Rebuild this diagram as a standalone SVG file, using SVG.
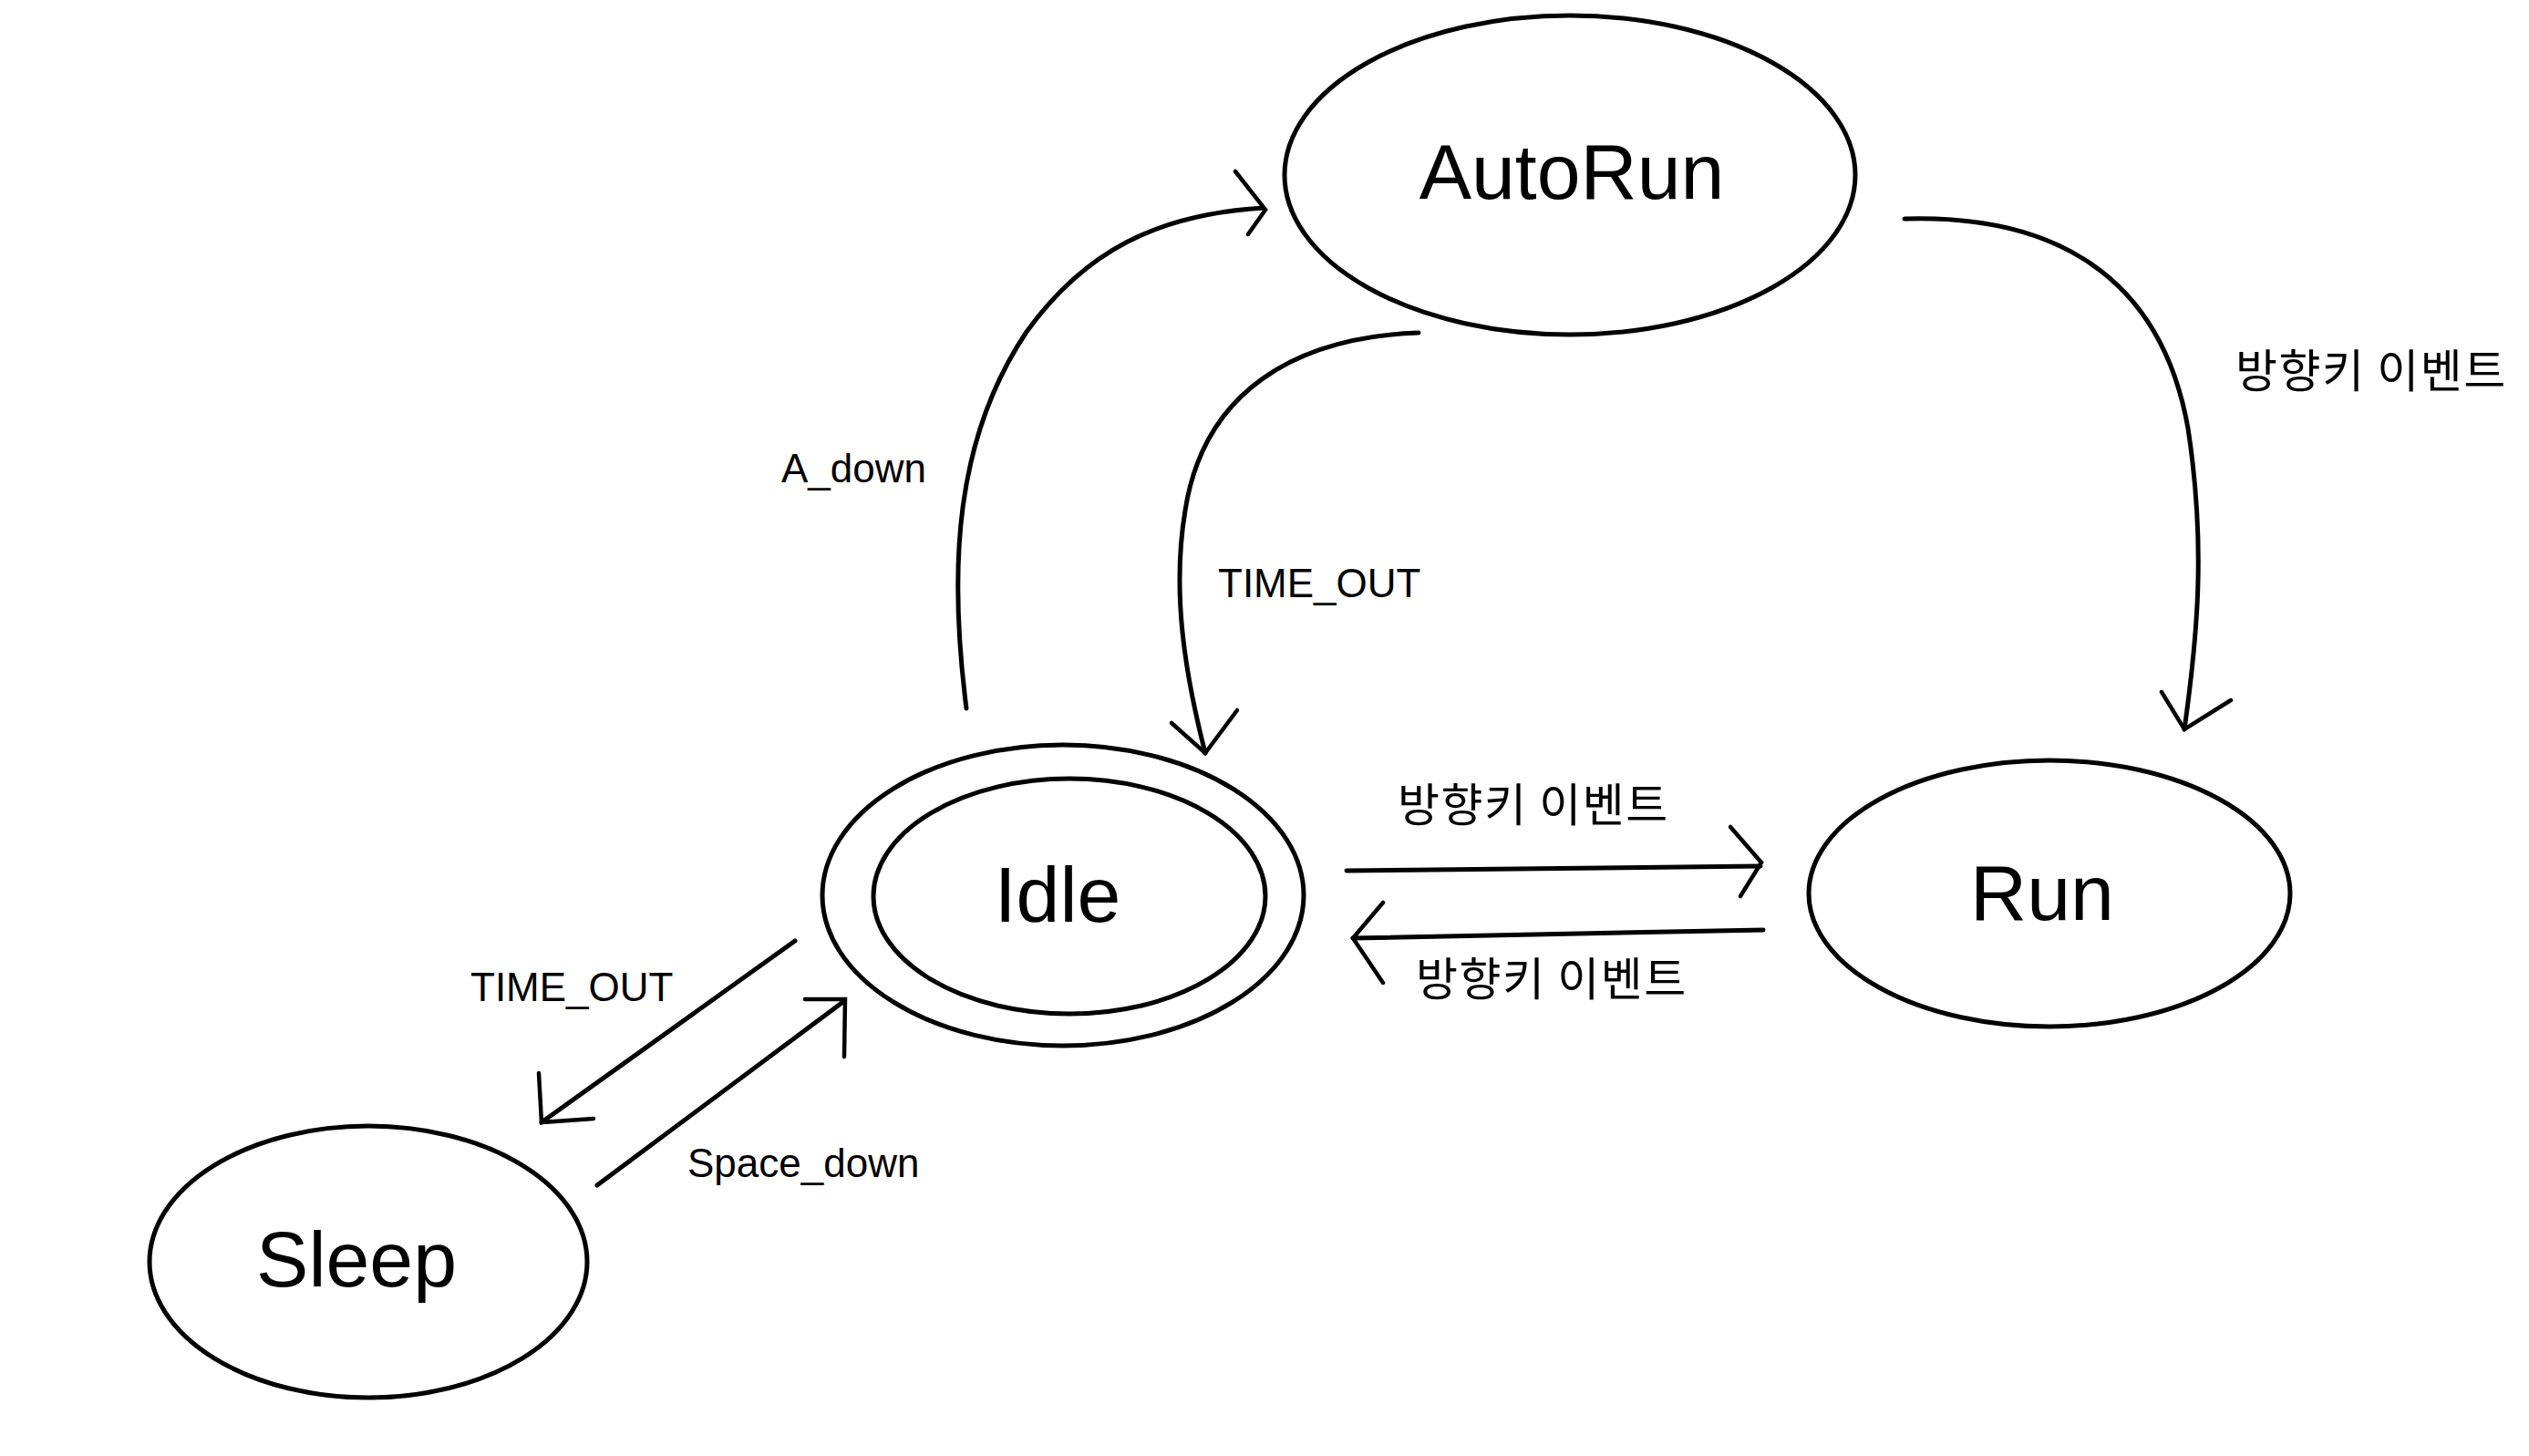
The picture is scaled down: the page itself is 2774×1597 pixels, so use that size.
<svg xmlns="http://www.w3.org/2000/svg" width="2774" height="1597" viewBox="0 0 2774 1597">
<style>
.node{fill:none;stroke:#000;stroke-width:5}
.name{font-family:"Liberation Sans","Open Sans",sans-serif;font-size:86px;text-anchor:middle;fill:#000}
.edge{fill:none;stroke:#000;stroke-width:5;stroke-linecap:round}
.head{fill:none;stroke:#000;stroke-width:4.5;stroke-linecap:round;stroke-linejoin:miter}
.lbl{font-family:"Liberation Sans","Open Sans",sans-serif;font-size:44px;fill:#000}
.klbl{font-family:"Noto Sans CJK KR","Noto Sans",sans-serif;font-size:50px;letter-spacing:1.5px;fill:#000}
</style>
<rect width="2774" height="1597" fill="#fff"/>
<g id="AutoRun">
<ellipse class="node" cx="1722" cy="192" rx="313" ry="175"/>
<text class="name" x="1724" y="218">AutoRun</text>
</g>
<g id="Idle">
<ellipse class="node" cx="1166" cy="982" rx="264" ry="165"/>
<ellipse class="node" cx="1173" cy="983" rx="215" ry="129"/>
<text class="name" x="1160" y="1011">Idle</text>
</g>
<g id="Run">
<ellipse class="node" cx="2248" cy="980" rx="264" ry="146"/>
<text class="name" x="2240" y="1009">Run</text>
</g>
<g id="Sleep">
<ellipse class="node" cx="404" cy="1384" rx="240" ry="149"/>
<text class="name" x="391" y="1411">Sleep</text>
</g>
<g id="connectors">
<!-- Idle -> AutoRun (A_down) -->
<path class="edge" d="M1060,777 C1040,620 1048,480 1126,364 C1190,275 1270,235 1386,228"/>
<polyline class="head" points="1355,188 1388,230 1369,257"/>
<text class="lbl" x="857" y="529">A_down</text>
<!-- AutoRun -> Idle (TIME_OUT) -->
<path class="edge" d="M1556,365 C1420,370 1320,430 1300,560 C1285,650 1300,740 1322,826"/>
<polyline class="head" points="1285,793 1322,826 1357,779"/>
<text class="lbl" x="1336" y="655">TIME_OUT</text>
<!-- AutoRun -> Run -->
<path class="edge" d="M2089,240 C2250,235 2370,300 2400,470 C2420,600 2410,700 2396,800"/>
<polyline class="head" points="2371,759 2396,800 2447,768"/>
<text class="klbl" x="2452" y="425">방향키 이벤트</text>
<!-- Idle -> Run -->
<path class="edge" d="M1477,955 L1931,950"/>
<polyline class="head" points="1898,907 1932,946 1909,983"/>
<text class="klbl" x="1533" y="901">방향키 이벤트</text>
<!-- Run -> Idle -->
<path class="edge" d="M1934,1020 L1484,1029"/>
<polyline class="head" points="1517,990 1484,1029 1517,1078"/>
<text class="klbl" x="1553" y="1092">방향키 이벤트</text>
<!-- Idle -> Sleep (TIME_OUT) -->
<path class="edge" d="M872,1032 L594,1231"/>
<polyline class="head" points="591,1177 594,1231 651,1227"/>
<text class="lbl" x="516" y="1098">TIME_OUT</text>
<!-- Sleep -> Idle (Space_down) -->
<path class="edge" d="M655,1300 L926,1098"/>
<polyline class="head" points="883,1096 927,1096 926,1159"/>
<text class="lbl" x="754" y="1291">Space_down</text>
</g>
</svg>
